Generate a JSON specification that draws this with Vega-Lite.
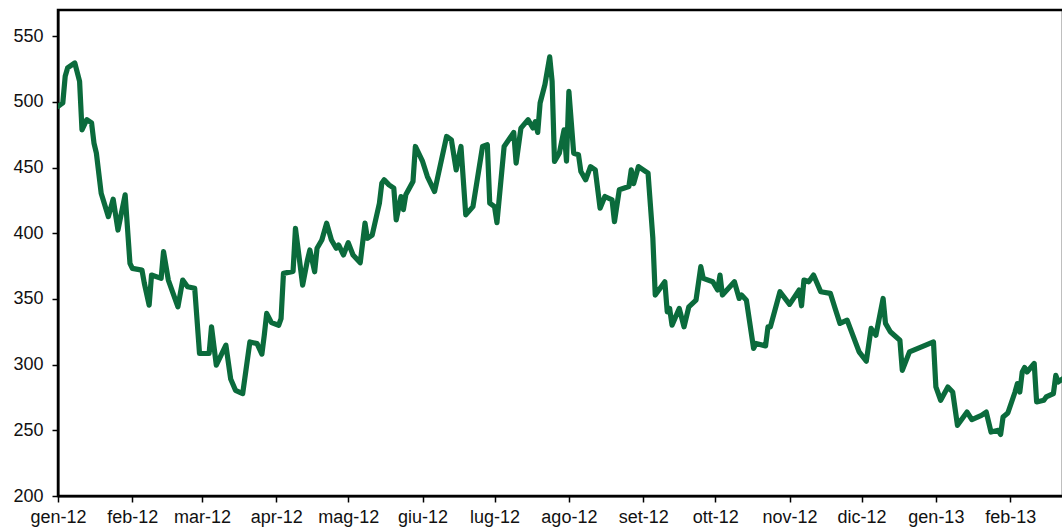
{
  "$schema": "https://vega.github.io/schema/vega-lite/v6.json",
  "width": 1005,
  "height": 486,
  "autosize": {"type": "none"},
  "padding": {"left": 58, "top": 10, "right": 0, "bottom": 31},
  "background": "white",
  "config": {
    "view": {"stroke": "black", "strokeWidth": 2.5},
    "axis": {"grid": false, "labelFont": "Liberation Sans", "labelFontSize": 18, "labelColor": "#111111", "domainColor": "black", "domainWidth": 2, "tickColor": "black", "tickWidth": 1.5, "tickSize": 6}
  },
  "data": {"values": [
    {"d": "2012-01-01", "v": 496.6}, {"d": "2012-01-03", "v": 499.2}, {"d": "2012-01-04", "v": 519.5}, {"d": "2012-01-05", "v": 525.9},
    {"d": "2012-01-08", "v": 529.7}, {"d": "2012-01-10", "v": 515.7}, {"d": "2012-01-11", "v": 478.8}, {"d": "2012-01-13", "v": 486.5},
    {"d": "2012-01-15", "v": 484}, {"d": "2012-01-16", "v": 468.7}, {"d": "2012-01-17", "v": 461}, {"d": "2012-01-19", "v": 430.5},
    {"d": "2012-01-22", "v": 412.7}, {"d": "2012-01-24", "v": 426}, {"d": "2012-01-26", "v": 402.5}, {"d": "2012-01-29", "v": 429.3},
    {"d": "2012-01-31", "v": 377.1}, {"d": "2012-02-01", "v": 373.3}, {"d": "2012-02-05", "v": 372}, {"d": "2012-02-06", "v": 361.9},
    {"d": "2012-02-08", "v": 345.3}, {"d": "2012-02-09", "v": 368.2}, {"d": "2012-02-13", "v": 365.7}, {"d": "2012-02-14", "v": 386},
    {"d": "2012-02-16", "v": 364.4}, {"d": "2012-02-20", "v": 344}, {"d": "2012-02-22", "v": 364.4}, {"d": "2012-02-24", "v": 359.3},
    {"d": "2012-02-27", "v": 358.1}, {"d": "2012-02-29", "v": 308.5}, {"d": "2012-03-04", "v": 308.5}, {"d": "2012-03-05", "v": 328.8},
    {"d": "2012-03-07", "v": 299.6}, {"d": "2012-03-11", "v": 314.8}, {"d": "2012-03-13", "v": 289}, {"d": "2012-03-15", "v": 280.5},
    {"d": "2012-03-18", "v": 278}, {"d": "2012-03-21", "v": 317.3}, {"d": "2012-03-24", "v": 316}, {"d": "2012-03-26", "v": 308},
    {"d": "2012-03-27", "v": 322.4}, {"d": "2012-03-28", "v": 339}, {"d": "2012-03-30", "v": 332}, {"d": "2012-04-02", "v": 330},
    {"d": "2012-04-03", "v": 335}, {"d": "2012-04-04", "v": 369.5}, {"d": "2012-04-08", "v": 371}, {"d": "2012-04-09", "v": 403.8},
    {"d": "2012-04-12", "v": 360.6}, {"d": "2012-04-14", "v": 379.6}, {"d": "2012-04-15", "v": 387.3}, {"d": "2012-04-17", "v": 370.7},
    {"d": "2012-04-18", "v": 388.6}, {"d": "2012-04-20", "v": 394.9}, {"d": "2012-04-22", "v": 407.7}, {"d": "2012-04-24", "v": 394.9},
    {"d": "2012-04-26", "v": 388.6}, {"d": "2012-04-27", "v": 391.1}, {"d": "2012-04-29", "v": 383.5}, {"d": "2012-05-01", "v": 392.9},
    {"d": "2012-05-03", "v": 383.5}, {"d": "2012-05-06", "v": 377.6}, {"d": "2012-05-08", "v": 407.7}, {"d": "2012-05-09", "v": 396.2},
    {"d": "2012-05-11", "v": 398.7}, {"d": "2012-05-14", "v": 422.9}, {"d": "2012-05-15", "v": 438.1}, {"d": "2012-05-16", "v": 440.7},
    {"d": "2012-05-18", "v": 436.9}, {"d": "2012-05-20", "v": 434.4}, {"d": "2012-05-21", "v": 410.2}, {"d": "2012-05-23", "v": 428},
    {"d": "2012-05-24", "v": 418}, {"d": "2012-05-25", "v": 429.3}, {"d": "2012-05-28", "v": 439.4}, {"d": "2012-05-29", "v": 466.1},
    {"d": "2012-06-01", "v": 454.7}, {"d": "2012-06-03", "v": 443.2}, {"d": "2012-06-06", "v": 431.8}, {"d": "2012-06-11", "v": 473.7},
    {"d": "2012-06-13", "v": 471.2}, {"d": "2012-06-15", "v": 448.3}, {"d": "2012-06-17", "v": 466.1}, {"d": "2012-06-19", "v": 414},
    {"d": "2012-06-22", "v": 420.3}, {"d": "2012-06-26", "v": 466.1}, {"d": "2012-06-28", "v": 467.4}, {"d": "2012-06-29", "v": 422.9},
    {"d": "2012-07-01", "v": 420.3}, {"d": "2012-07-02", "v": 408.1}, {"d": "2012-07-05", "v": 466.1}, {"d": "2012-07-09", "v": 476.8},
    {"d": "2012-07-10", "v": 453.4}, {"d": "2012-07-12", "v": 480.1}, {"d": "2012-07-15", "v": 486.5}, {"d": "2012-07-17", "v": 480.1},
    {"d": "2012-07-18", "v": 485}, {"d": "2012-07-19", "v": 476.8}, {"d": "2012-07-20", "v": 499.2}, {"d": "2012-07-22", "v": 513.2},
    {"d": "2012-07-24", "v": 534.3}, {"d": "2012-07-25", "v": 515.7}, {"d": "2012-07-26", "v": 454.7}, {"d": "2012-07-28", "v": 461},
    {"d": "2012-07-30", "v": 478.8}, {"d": "2012-07-31", "v": 455}, {"d": "2012-08-01", "v": 508}, {"d": "2012-08-03", "v": 461},
    {"d": "2012-08-05", "v": 459.8}, {"d": "2012-08-06", "v": 447}, {"d": "2012-08-08", "v": 440.7}, {"d": "2012-08-10", "v": 450.8},
    {"d": "2012-08-12", "v": 448.3}, {"d": "2012-08-14", "v": 419.1}, {"d": "2012-08-16", "v": 428}, {"d": "2012-08-19", "v": 425.4},
    {"d": "2012-08-20", "v": 408.9}, {"d": "2012-08-22", "v": 433.1}, {"d": "2012-08-26", "v": 435.6}, {"d": "2012-08-27", "v": 448.3},
    {"d": "2012-08-28", "v": 437.8}, {"d": "2012-08-30", "v": 450.8}, {"d": "2012-09-03", "v": 445.8}, {"d": "2012-09-05", "v": 396.2},
    {"d": "2012-09-06", "v": 353}, {"d": "2012-09-10", "v": 363.1}, {"d": "2012-09-11", "v": 340.2}, {"d": "2012-09-12", "v": 342.8},
    {"d": "2012-09-13", "v": 330.1}, {"d": "2012-09-16", "v": 342.8}, {"d": "2012-09-18", "v": 328.8}, {"d": "2012-09-20", "v": 344},
    {"d": "2012-09-23", "v": 349.1}, {"d": "2012-09-25", "v": 374.6}, {"d": "2012-09-26", "v": 365.7}, {"d": "2012-09-30", "v": 363.1},
    {"d": "2012-10-02", "v": 356.8}, {"d": "2012-10-03", "v": 368.2}, {"d": "2012-10-04", "v": 353}, {"d": "2012-10-09", "v": 363.1},
    {"d": "2012-10-11", "v": 350.4}, {"d": "2012-10-12", "v": 353}, {"d": "2012-10-14", "v": 349.1}, {"d": "2012-10-17", "v": 312.3},
    {"d": "2012-10-18", "v": 316.1}, {"d": "2012-10-22", "v": 314.3}, {"d": "2012-10-23", "v": 328.8}, {"d": "2012-10-24", "v": 328.8},
    {"d": "2012-10-28", "v": 355.5}, {"d": "2012-11-01", "v": 345.9}, {"d": "2012-11-05", "v": 356.8}, {"d": "2012-11-06", "v": 344.8},
    {"d": "2012-11-07", "v": 364.4}, {"d": "2012-11-09", "v": 363.1}, {"d": "2012-11-11", "v": 368.2}, {"d": "2012-11-14", "v": 355.5},
    {"d": "2012-11-18", "v": 354.3}, {"d": "2012-11-20", "v": 342.8}, {"d": "2012-11-22", "v": 331.4}, {"d": "2012-11-25", "v": 333.9},
    {"d": "2012-11-30", "v": 309.7}, {"d": "2012-12-03", "v": 302.6}, {"d": "2012-12-05", "v": 327.6}, {"d": "2012-12-07", "v": 322.4},
    {"d": "2012-12-10", "v": 350.4}, {"d": "2012-12-11", "v": 331.4}, {"d": "2012-12-13", "v": 325}, {"d": "2012-12-17", "v": 318.6},
    {"d": "2012-12-18", "v": 295.7}, {"d": "2012-12-21", "v": 309.7}, {"d": "2012-12-31", "v": 317.3}, {"d": "2013-01-01", "v": 283},
    {"d": "2013-01-03", "v": 272.9}, {"d": "2013-01-06", "v": 283}, {"d": "2013-01-08", "v": 279.2}, {"d": "2013-01-10", "v": 253.8},
    {"d": "2013-01-14", "v": 263.9}, {"d": "2013-01-16", "v": 258.1}, {"d": "2013-01-20", "v": 261.4}, {"d": "2013-01-22", "v": 263.9},
    {"d": "2013-01-24", "v": 248.7}, {"d": "2013-01-27", "v": 250}, {"d": "2013-01-28", "v": 246.9}, {"d": "2013-01-29", "v": 260.1},
    {"d": "2013-01-31", "v": 263.2}, {"d": "2013-02-03", "v": 279.2}, {"d": "2013-02-04", "v": 285.6}, {"d": "2013-02-05", "v": 279.2},
    {"d": "2013-02-06", "v": 294.4}, {"d": "2013-02-07", "v": 297.8}, {"d": "2013-02-08", "v": 294.4}, {"d": "2013-02-11", "v": 300.9},
    {"d": "2013-02-12", "v": 271.6}, {"d": "2013-02-15", "v": 272.9}, {"d": "2013-02-16", "v": 275.4}, {"d": "2013-02-19", "v": 278},
    {"d": "2013-02-20", "v": 291.9}, {"d": "2013-02-21", "v": 286.8}, {"d": "2013-02-23", "v": 289.4}
  ]},
  "mark": {"type": "line", "color": "#0b6b3c", "strokeWidth": 5.2, "strokeJoin": "round", "strokeCap": "round", "clip": true},
  "encoding": {
    "x": {
      "field": "d", "type": "temporal", "title": null,
      "scale": {"type": "utc", "domain": [{"year": 2012, "month": 1, "date": 1, "utc": true}, {"year": 2013, "month": 2, "date": 23, "utc": true}], "nice": false},
      "axis": {
        "tickCount": {"interval": "month", "step": 1},
        "labelExpr": "['gen','feb','mar','apr','mag','giu','lug','ago','set','ott','nov','dic'][utcmonth(datum.value)] + '-' + utcFormat(datum.value, '%y')",
        "labelPadding": 6, "labelFlush": false, "labelOverlap": false
      }
    },
    "y": {
      "field": "v", "type": "quantitative", "title": null,
      "scale": {"domain": [200, 570], "nice": false, "zero": false},
      "axis": {"values": [200, 250, 300, 350, 400, 450, 500, 550], "labelPadding": 9}
    }
  }
}
